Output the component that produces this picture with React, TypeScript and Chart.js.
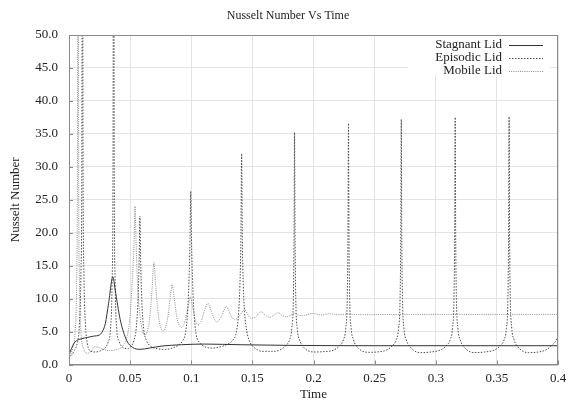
import React, { useEffect, useRef } from "react";
import { Chart, registerables } from "chart.js";

Chart.register(...registerables);

const chartTitle = "Nusselt Number Vs Time";
const xTitle = "Time";
const yTitle = "Nusselt Number";
const seriesNames = ["Stagnant Lid", "Episodic Lid", "Mobile Lid"];

const xTicks = [0, 0.05, 0.1, 0.15, 0.2, 0.25, 0.3, 0.35, 0.4];
const xTickLabels = ["0", "0.05", "0.1", "0.15", "0.2", "0.25", "0.3", "0.35", "0.4"];
const yTicks = [0, 5, 10, 15, 20, 25, 30, 35, 40, 45, 50];
const yTickLabels = ["0.0", "5.0", "10.0", "15.0", "20.0", "25.0", "30.0", "35.0", "40.0", "45.0", "50.0"];

const stagTime = [0, 0.002, 0.004, 0.006, 0.010, 0.015, 0.020, 0.025, 0.027, 0.0297, 0.0324, 0.0359, 0.0378, 0.0419, 0.0473, 0.052, 0.058, 0.066, 0.076, 0.092, 0.111, 0.14, 0.18, 0.25, 0.32, 0.4];
const stagNu = [1.5, 2.4, 3.2, 3.6, 3.9, 4.1, 4.3, 4.5, 4.9, 6.2, 9.3, 13.3, 11.3, 6.8, 3.6, 2.6, 2.3, 2.5, 2.8, 3.0, 3.1, 3.0, 2.9, 2.85, 2.85, 2.85];

const epiTime = [
  0, 0.004, 0.007, 0.0085, 0.0098, 0.0105, 0.011, 0.0115, 0.0122, 0.0135,
  0.015, 0.018, 0.022, 0.027, 0.030, 0.032, 0.034, 0.0352, 0.036, 0.0365,
  0.037, 0.0378, 0.039, 0.041, 0.044, 0.048, 0.051, 0.053, 0.055, 0.0565,
  0.0574, 0.058, 0.0586, 0.0595, 0.061, 0.063, 0.066, 0.072, 0.079, 0.086,
  0.090, 0.093, 0.0955, 0.097, 0.098, 0.099, 0.0996, 0.1002, 0.1012, 0.1022,
  0.104, 0.107, 0.111, 0.118, 0.124, 0.130, 0.134, 0.137, 0.1388, 0.1398,
  0.1406, 0.1412, 0.1418, 0.1426, 0.1436, 0.1455, 0.148, 0.152, 0.158, 0.166,
  0.1725, 0.1775, 0.1805, 0.1823, 0.1835, 0.1841, 0.1845, 0.1849, 0.1855, 0.1867, 0.1885, 0.1925, 0.2005, 0.208,
  0.2166, 0.2216, 0.2246, 0.2264, 0.2276, 0.2282, 0.2286, 0.2290, 0.2296, 0.2308, 0.2326, 0.2366, 0.2446, 0.252,
  0.2598, 0.2648, 0.2678, 0.2696, 0.2708, 0.2714, 0.2718, 0.2722, 0.2728, 0.2740, 0.2758, 0.2798, 0.2878, 0.296,
  0.3039, 0.3089, 0.3119, 0.3137, 0.3149, 0.3155, 0.3159, 0.3163, 0.3169, 0.3181, 0.3199, 0.3239, 0.3319, 0.340,
  0.348, 0.353, 0.356, 0.3578, 0.359, 0.3596, 0.36, 0.3604, 0.361, 0.3622, 0.364, 0.368, 0.376, 0.384, 0.390, 0.395, 0.398, 0.4,
];
const epiNu = [
  1.0, 2.0, 3.5, 6, 14, 30, 90, 30, 14, 6,
  3.2, 2.0, 1.9, 2.2, 2.6, 3.4, 5.5, 12, 30, 90,
  30, 12, 5.5, 3.5, 2.6, 2.4, 2.8, 3.6, 5.5, 10,
  16, 22.5, 16, 10, 5.5, 3.8, 2.9, 2.4, 2.3, 2.6,
  3.0, 3.6, 5, 8, 12, 19, 26.3, 19, 12, 8,
  4.6, 3.3, 2.7, 2.5, 2.7, 3.1, 3.7, 5, 8, 12,
  19, 32, 19, 12, 8, 5, 3.4, 2.5, 2.0, 2.0,
  2.2, 2.9, 3.8, 5.5, 10, 20, 35.2, 20, 10, 5.5, 3.8, 2.5, 1.9, 1.95,
  2.2, 2.9, 3.8, 5.5, 10, 20, 36.6, 20, 10, 5.5, 3.8, 2.5, 1.85, 1.9,
  2.2, 2.9, 3.8, 5.5, 10, 20, 37.2, 20, 10, 5.5, 3.8, 2.5, 1.8, 1.9,
  2.2, 2.9, 3.8, 5.5, 10, 20, 37.5, 20, 10, 5.5, 3.8, 2.5, 1.8, 1.9,
  2.2, 2.9, 3.8, 5.5, 10, 20, 37.6, 20, 10, 5.5, 3.8, 2.5, 1.8, 1.9, 2.2, 2.9, 3.5, 4.2,
];

const mobTime = [
  0, 0.003, 0.005, 0.0062, 0.0069, 0.0074, 0.0079, 0.0086, 0.0098, 0.012,
  0.015, 0.018, 0.021, 0.024, 0.028, 0.033, 0.038, 0.042, 0.045, 0.048,
  0.050, 0.052, 0.0533, 0.054, 0.0548, 0.056, 0.058, 0.060, 0.062, 0.064,
  0.066, 0.068, 0.0694, 0.071, 0.073, 0.075, 0.077, 0.079, 0.081, 0.083,
  0.0843, 0.086, 0.088, 0.090, 0.092, 0.094, 0.097, 0.0993, 0.1015, 0.1035,
  0.1055, 0.108, 0.111, 0.1137, 0.1165, 0.1205, 0.1245, 0.1287, 0.132, 0.1355,
  0.139, 0.1437, 0.1465, 0.149, 0.153, 0.157, 0.1605, 0.164, 0.167, 0.171,
  0.174, 0.1777, 0.181, 0.1845, 0.1875, 0.191, 0.195, 0.1995, 0.206, 0.213,
  0.22, 0.228, 0.24, 0.26, 0.28, 0.3, 0.34, 0.4,
];
const mobNu = [
  1.0, 2.5, 5, 12, 30, 90, 30, 12, 5, 2.4,
  1.7, 2.0, 2.7, 2.6, 2.3, 2.1, 2.2, 2.5, 3.1, 4.6,
  7.5, 13.5, 19, 24, 19, 12.5, 7.5, 5.2, 4.5, 5.0,
  7.0, 11.5, 15.5, 11.8, 7.6, 5.6, 5.1, 5.6, 7.4, 10.5,
  12.1, 10.2, 7.4, 6.0, 5.6, 6.1, 8.3, 10.2, 8.4, 6.6,
  6.0, 6.5, 8.3, 9.3, 8.0, 6.5, 7.2, 8.8, 7.6, 6.8,
  7.3, 8.3, 7.5, 7.0, 7.3, 8.0, 7.5, 7.15, 7.4, 7.85,
  7.5, 7.25, 7.45, 7.75, 7.5, 7.4, 7.6, 7.75, 7.5, 7.7,
  7.55, 7.65, 7.55, 7.6, 7.6, 7.6, 7.6, 7.6,
];

const FONT = '"Liberation Serif", "Times New Roman", serif';
const TEXT = "#222";
const styles = [
  { color: "#333333", dash: [] as number[] },
  { color: "#4d4d4d", dash: [1.5, 1.5] },
  { color: "#8c8c8c", dash: [1, 1.2] },
];

const toPoints = (t: number[], v: number[]) => t.map((x, i) => ({ x, y: v[i] }));

const framePlugin = {
  id: "frame",
  afterDraw(chart: any) {
    const { ctx, chartArea: a, scales } = chart;
    ctx.save();
    // title
    ctx.fillStyle = TEXT;
    ctx.font = `12px ${FONT}`;
    ctx.textAlign = "center";
    ctx.textBaseline = "middle";
    ctx.fillText(chartTitle, 288, 16);
    // plot border
    ctx.strokeStyle = "#8a8a8a";
    ctx.lineWidth = 1;
    ctx.strokeRect(a.left + 0.5, a.top + 0.5, a.right - a.left - 1, a.bottom - a.top);
    // inward ticks
    ctx.beginPath();
    for (const v of xTicks) {
      const x = Math.round(scales.x.getPixelForValue(v)) + 0.5;
      ctx.moveTo(x, a.bottom);
      ctx.lineTo(x, a.bottom - 4);
    }
    for (const v of yTicks) {
      const y = Math.round(scales.y.getPixelForValue(v)) + 0.5;
      ctx.moveTo(a.left, y);
      ctx.lineTo(a.left + 4, y);
    }
    ctx.stroke();
    // legend
    const bx = 408, by = a.top + 1, bw = 142, bh = 39;
    ctx.fillStyle = "#ffffff";
    ctx.fillRect(bx, by, bw, bh);
    ctx.font = `13px ${FONT}`;
    ctx.textAlign = "right";
    ctx.textBaseline = "middle";
    seriesNames.forEach((name, i) => {
      const y = 45 + i * 13;
      ctx.fillStyle = TEXT;
      ctx.fillText(name, 502, y);
      ctx.beginPath();
      ctx.strokeStyle = styles[i].color;
      ctx.setLineDash(styles[i].dash);
      ctx.lineWidth = 1;
      ctx.moveTo(509, Math.round(y) + 0.5);
      ctx.lineTo(543, Math.round(y) + 0.5);
      ctx.stroke();
      ctx.setLineDash([]);
    });
    ctx.restore();
  },
};

export default function App() {
  const ref = useRef<HTMLCanvasElement>(null);
  useEffect(() => {
    document.body.style.margin = "0";
    Chart.defaults.font.family = FONT;
    Chart.defaults.color = TEXT;
    const series = [toPoints(stagTime, stagNu), toPoints(epiTime, epiNu), toPoints(mobTime, mobNu)];
    const chart = new Chart(ref.current as HTMLCanvasElement, {
      type: "line",
      data: {
        datasets: series.map((data, i) => ({
          label: seriesNames[i],
          data,
          borderColor: styles[i].color,
          borderDash: styles[i].dash,
          borderWidth: 1,
          pointRadius: 0,
          fill: false,
          cubicInterpolationMode: "monotone" as const,
        })),
      },
      options: {
        responsive: false,
        animation: false,
        layout: { padding: { left: 0, right: 10, top: 35, bottom: 0 } },
        plugins: {
          legend: { display: false },
          tooltip: { enabled: false },
          title: { display: false },
        },
        scales: {
          x: {
            type: "linear",
            min: 0,
            max: 0.4,
            afterBuildTicks: (s: any) => {
              s.ticks = xTicks.map((value) => ({ value }));
            },
            afterFit: (s: any) => {
              s.height = 35.5;
              s.paddingLeft = 0;
              s.paddingRight = 0;
            },
            ticks: {
              autoSkip: false,
              maxRotation: 0,
              padding: 6,
              color: TEXT,
              font: { size: 13 },
              callback: (v: any) => {
                const i = xTicks.findIndex((t) => Math.abs(t - Number(v)) < 1e-9);
                return i >= 0 ? xTickLabels[i] : "";
              },
            },
            grid: { color: "#e4e4e4", drawTicks: false },
            border: { color: "#8a8a8a" },
            title: {
              display: true,
              text: xTitle,
              color: TEXT,
              font: { size: 13, lineHeight: 1 },
              padding: { top: 0, bottom: -1 },
            },
          },
          y: {
            type: "linear",
            min: 0,
            max: 50,
            afterBuildTicks: (s: any) => {
              s.ticks = yTicks.map((value) => ({ value }));
            },
            afterFit: (s: any) => {
              s.width = 69;
            },
            ticks: {
              padding: 11,
              color: TEXT,
              font: { size: 13 },
              callback: (v: any) => {
                const i = yTicks.findIndex((t) => Math.abs(t - Number(v)) < 1e-9);
                return i >= 0 ? yTickLabels[i] : "";
              },
            },
            grid: { color: "#e4e4e4", drawTicks: false },
            border: { color: "#8a8a8a" },
            title: {
              display: true,
              text: yTitle,
              color: TEXT,
              font: { size: 13 },
              padding: { top: 7.5, bottom: 0 },
            },
          },
        },
      },
      plugins: [framePlugin],
    });
    return () => chart.destroy();
  }, []);
  return (
    <div style={{ width: 568, height: 400 }}>
      <canvas ref={ref} width={568} height={400} style={{ display: "block" }} />
    </div>
  );
}
